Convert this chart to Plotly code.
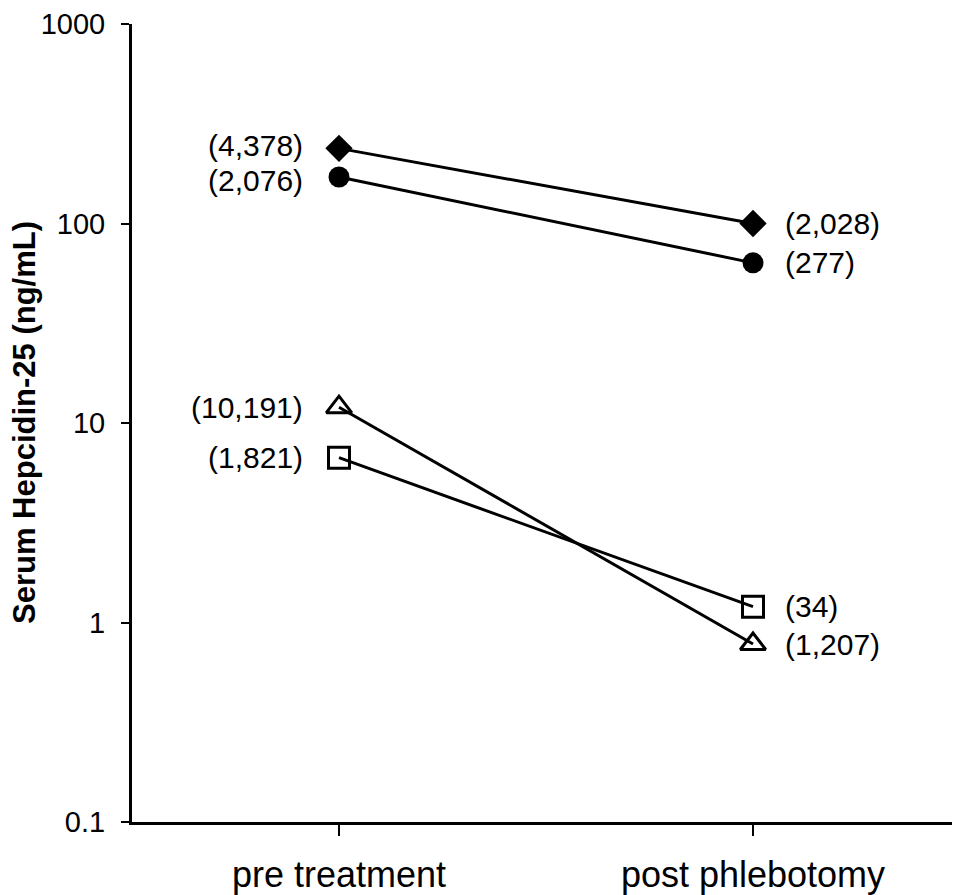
import numpy as np
import plotly.graph_objects as go

categories = ["pre treatment", "post phlebotomy"]

diamond_vals = [238, 100]
diamond_labels = ["(4,378)", "(2,028)"]
circle_vals = [171, 63.5]
circle_labels = ["(2,076)", "(277)"]
triangle_vals = [12.0, 0.78]
triangle_labels = ["(10,191)", "(1,207)"]
square_vals = [6.7, 1.2]
square_labels = ["(1,821)", "(34)"]

y_tickvals = [0.1, 1, 10, 100, 1000]
y_ticktext = ["0.1", "1", "10", "100", "1000"]

FONT = "Liberation Sans, Arial, sans-serif"

# (values, labels, marker style, label vertical nudge in px for [pre, post])
series = [
    (diamond_vals, diamond_labels, dict(symbol="diamond", size=21, color="black", line=dict(width=0)), [3, 0]),
    (circle_vals, circle_labels, dict(symbol="circle", size=21, color="black", line=dict(width=0)), [-3, 0]),
    (triangle_vals, triangle_labels, dict(symbol="triangle-up-open", size=22, color="black", line=dict(width=3, color="black")), [0, 0]),
    (square_vals, square_labels, dict(symbol="square-open", size=21, color="black", line=dict(width=3, color="black")), [0, 0]),
]

fig = go.Figure()
annotations = []
for vals, labels, mk, nudges in series:
    fig.add_trace(go.Scatter(
        x=categories, y=vals, mode="lines+markers",
        line=dict(color="black", width=3),
        marker=mk, showlegend=False, cliponaxis=False,
    ))
    for i, (c, v, t) in enumerate(zip(categories, vals, labels)):
        annotations.append(dict(
            x=c, y=float(np.log10(v)), xref="x", yref="y", text=t, showarrow=False,
            xanchor="right" if i == 0 else "left", yanchor="middle",
            xshift=-34 if i == 0 else 30, yshift=nudges[i],
            font=dict(family=FONT, size=30, color="black"),
        ))

annotations.append(dict(
    x=0, y=0.5, xref="paper", yref="paper", text="<b>Serum Hepcidin-25 (ng/mL)</b>",
    textangle=-90, showarrow=False, xanchor="center", yanchor="middle", xshift=-108,
    font=dict(family=FONT, size=31, color="black"),
))

# page body has an 8px default margin, so the figure is sized/offset to compensate
fig.update_layout(
    width=952, height=887,
    margin=dict(l=124, r=0, t=14, b=72),
    paper_bgcolor="white", plot_bgcolor="white",
    font=dict(family=FONT, color="black"),
    annotations=annotations,
)
fig.update_xaxes(
    type="category", range=[-0.5, 1.5],
    showline=True, linewidth=3, linecolor="black",
    ticks="outside", ticklen=11, tickwidth=2, tickcolor="black",
    showgrid=False, zeroline=False,
    tickfont=dict(family=FONT, size=36, color="black"),
    ticklabelstandoff=8, ticklabeloverflow="allow",
)
fig.update_yaxes(
    type="log", range=[-1, 3],
    tickvals=y_tickvals, ticktext=y_ticktext,
    showline=True, linewidth=3, linecolor="black",
    ticks="outside", ticklen=8, tickwidth=2, tickcolor="black",
    showgrid=False, zeroline=False,
    tickfont=dict(family=FONT, size=29, color="black"),
    ticklabelstandoff=10, ticklabeloverflow="allow",
)

fig.write_html("out.html")
